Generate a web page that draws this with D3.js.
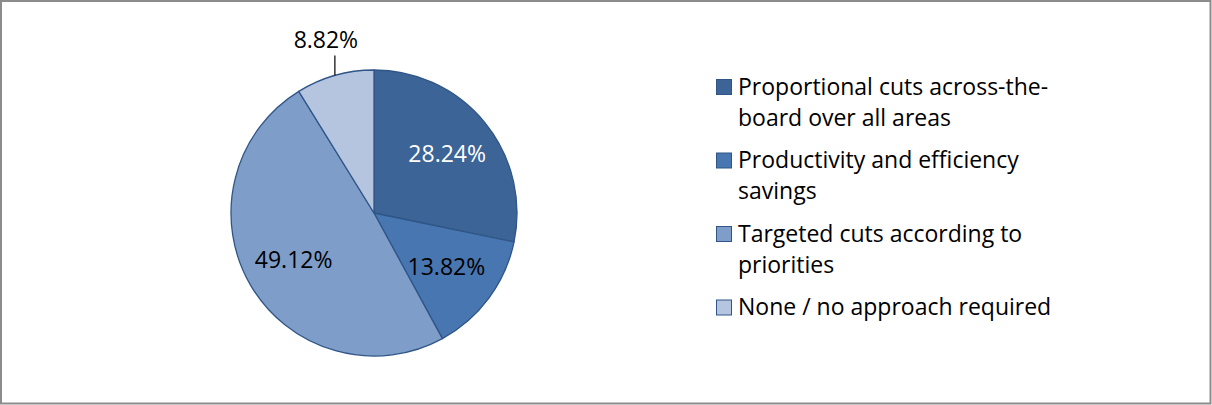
<!DOCTYPE html>
<html>
<head>
<meta charset="utf-8">
<script src="https://cdn.jsdelivr.net/npm/d3@7"></script>
<style>
  html, body { margin: 0; padding: 0; background: #fff; }
  svg { display: block; }
  text { font-family: "Open Sans", "Lato", sans-serif; }
</style>
</head>
<body>
<svg id="chart" width="1212" height="405"></svg>
<script>
// Approaches to budget reductions (share of responses, %)
const categories = [
  "Proportional cuts across-the-board over all areas",
  "Productivity and efficiency savings",
  "Targeted cuts according to priorities",
  "None / no approach required"
];
const values = [28.24, 13.82, 49.12, 8.82];
const valueLabels = ["28.24%", "13.82%", "49.12%", "8.82%"];
// Legend text broken into lines as displayed
const legendLines = [
  ["Proportional cuts across-the-", "board over all areas"],
  ["Productivity and efficiency", "savings"],
  ["Targeted cuts according to", "priorities"],
  ["None / no approach required"]
];
const colors = ["#3c6496", "#4876b0", "#7f9dc9", "#b5c4df"];
const labelColors = ["#ffffff", "#000000", "#000000", "#000000"];

const svg = d3.select("#chart");
const W = 1212, H = 405;

// outer frame
svg.append("rect")
  .attr("x", 1).attr("y", 1)
  .attr("width", W - 2.5).attr("height", H - 2.5)
  .attr("fill", "#fff")
  .attr("stroke", "#8c8c8c")
  .attr("stroke-width", 2);

const cx = 374, cy = 213, R = 143;
const data = categories.map((c, i) => ({ name: c, value: values[i], idx: i }));

const pie = d3.pie().value(d => d.value).sort(null);
const arc = d3.arc().innerRadius(0).outerRadius(R);
const arcs = pie(data);

const g = svg.append("g").attr("transform", `translate(${cx},${cy})`);

g.selectAll("path.slice")
  .data(arcs)
  .join("path")
  .attr("class", "slice")
  .attr("d", arc)
  .attr("fill", d => colors[d.data.idx])
  .attr("stroke", "#2f5687")
  .attr("stroke-width", 1.3)
  .attr("stroke-linejoin", "round");

// label placements (fraction of radius along the slice bisector)
const labelRadius = [0.66, 0.63, 0.65, null];
const labelFont = 23;
const halfCap = labelFont * 0.357; // centres digits vertically on the anchor point

arcs.forEach((a, i) => {
  const mid = (a.startAngle + a.endAngle) / 2;
  if (labelRadius[i] !== null) {
    const r = R * labelRadius[i];
    g.append("text")
      .attr("x", Math.sin(mid) * r)
      .attr("y", -Math.cos(mid) * r + halfCap)
      .attr("text-anchor", "middle")
      .attr("font-size", labelFont)
      .attr("fill", labelColors[i])
      .text(valueLabels[i]);
  } else {
    // outside label with a leader line
    const p0 = [Math.sin(mid) * R, -Math.cos(mid) * R];
    const p1 = [p0[0], p0[1] - 20];
    g.append("line")
      .attr("x1", p0[0]).attr("y1", p0[1])
      .attr("x2", p1[0]).attr("y2", p1[1])
      .attr("stroke", "#000").attr("stroke-width", 1.2);
    g.append("text")
      .attr("x", p1[0] - 9)
      .attr("y", p1[1] - 7)
      .attr("text-anchor", "middle")
      .attr("font-size", labelFont)
      .attr("fill", labelColors[i])
      .text(valueLabels[i]);
  }
});

// legend
const legX = 716, legTop = 79, sq = 15, itemStep = 73.5, lineH = 31;
const leg = svg.append("g");
legendLines.forEach((lines, i) => {
  const y0 = legTop + i * itemStep;
  leg.append("rect")
    .attr("x", legX + 0.5).attr("y", y0 + 0.5)
    .attr("width", sq).attr("height", sq)
    .attr("fill", colors[i])
    .attr("stroke", "#2f5687").attr("stroke-width", 1);
  lines.forEach((ln, j) => {
    leg.append("text")
      .attr("x", legX + 22)
      .attr("y", y0 + 15.5 + j * lineH)
      .attr("font-size", 23)
      .attr("fill", "#000")
      .text(ln);
  });
});
</script>
</body>
</html>
